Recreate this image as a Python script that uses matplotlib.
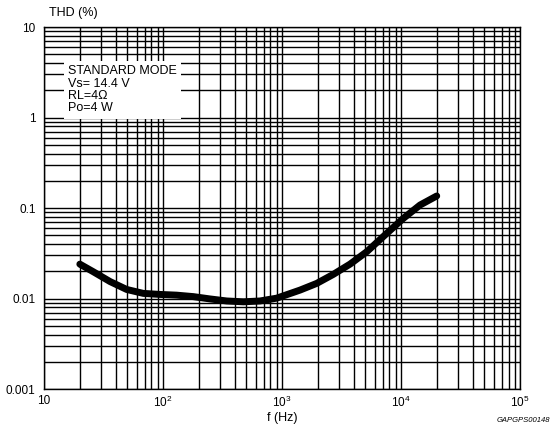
import numpy as np
import matplotlib.pyplot as plt

plt.rcParams['font.family'] = ['Liberation Sans', 'DejaVu Sans']
plt.rcParams['mathtext.fontset'] = 'custom'
plt.rcParams['mathtext.rm'] = 'Liberation Sans'
plt.rcParams['font.size'] = 8.5

# THD curve (f in Hz, THD in %)
freq = [20, 25.9, 35.9, 49.5, 68.3, 94.4, 130, 180, 248, 343, 473, 653,
        903, 1417, 1957, 2698, 3727, 5150, 7590, 10450, 14450, 19950]
thd = [0.0240, 0.0198, 0.0154, 0.0126, 0.0114, 0.0111, 0.0109, 0.0105,
       0.0099, 0.0094, 0.0092, 0.0094, 0.0101, 0.0124, 0.0147, 0.0185,
       0.0240, 0.0329, 0.0525, 0.0769, 0.108, 0.136]

x_ticks = [10, 1e2, 1e3, 1e4, 1e5]
x_labels = ['10', r'$\mathregular{10^{2}}$', r'$\mathregular{10^{3}}$',
            r'$\mathregular{10^{4}}$', r'$\mathregular{10^{5}}$']
y_ticks = [0.001, 0.01, 0.1, 1, 10]
y_labels = ['0.001', '0.01', '0.1', '1', '10']

fig = plt.figure(figsize=(5.55, 4.30), dpi=100)
ax = fig.add_axes([0.0793, 0.0953, 0.8577, 0.8417])
ax.set_xscale('log')
ax.set_yscale('log')
ax.set_xlim(10, 1e5)
ax.set_ylim(0.001, 10)

ax.grid(True, which='both', color='black', linewidth=1.0)
ax.set_axisbelow(True)
for s in ax.spines.values():
    s.set_linewidth(1.0)

ax.set_xticks(x_ticks)
ax.set_xticklabels(x_labels)
ax.set_yticks(y_ticks)
ax.set_yticklabels(y_labels)
ax.tick_params(which='both', length=0)
ax.tick_params(axis='x', pad=4)
ax.tick_params(axis='y', pad=6)

ax.plot(freq, thd, color='black', linewidth=5, solid_capstyle='round',
        solid_joinstyle='round', zorder=5)

ax.text(0.05, 0.895, 'STANDARD MODE\nVs= 14.4 V\nRL=4\u03a9\nPo=4 W',
        transform=ax.transAxes, ha='left', va='top', fontsize=9,
        linespacing=1.05, zorder=6,
        bbox=dict(facecolor='white', edgecolor='none', pad=3))

fig.text(0.088, 0.955, 'THD (%)', ha='left', va='bottom', fontsize=9)
fig.text(0.508, 0.028, 'f (Hz)', ha='center', va='center', fontsize=9)
fig.text(0.991, 0.021, 'GAPGPS00148', ha='right', va='center', fontsize=5.5,
         style='italic')

plt.savefig('out.png', dpi=100)
